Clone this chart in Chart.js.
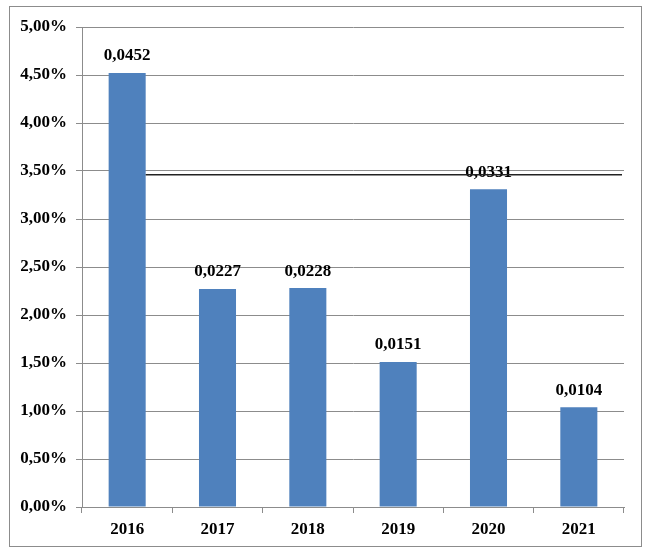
<!DOCTYPE html>
<html>
<head>
<meta charset="utf-8">
<script src="https://cdn.jsdelivr.net/npm/chart.js@4.4.0/dist/chart.umd.min.js"></script>
<style>
html,body{margin:0;padding:0;background:#fff;}
#wrap{width:650px;height:557px;position:relative;}
</style>
</head>
<body>
<div id="wrap"><canvas id="c" width="650" height="557"></canvas></div>
<script>
const categories = ["2016", "2017", "2018", "2019", "2020", "2021"];
const values = [0.0452, 0.0227, 0.0228, 0.0151, 0.0331, 0.0104];
const yTicks = [0, 0.005, 0.01, 0.015, 0.02, 0.025, 0.03, 0.035, 0.04, 0.045, 0.05];
const referenceLine = 0.0346;

const FONT = {family: '"Liberation Serif", "Times New Roman", serif', size: 17, weight: 'bold'};

const extras = {
  id: 'extras',
  beforeDraw(chart) {
    const ctx = chart.ctx;
    ctx.save();
    ctx.fillStyle = '#fff';
    ctx.fillRect(0, 0, chart.width, chart.height);
    ctx.strokeStyle = '#8c8c8c';
    ctx.lineWidth = 1;
    ctx.strokeRect(9.5, 6.5, 632, 540);
    ctx.restore();
  },
  afterDatasetsDraw(chart) {
    const ctx = chart.ctx;
    const meta = chart.getDatasetMeta(0);
    ctx.save();
    ctx.font = `bold ${FONT.size}px ${FONT.family}`;
    ctx.fillStyle = '#000';
    ctx.textAlign = 'center';
    ctx.textBaseline = 'middle';
    meta.data.forEach((bar, i) => {
      ctx.fillText(values[i].toFixed(4).replace('.', ','), bar.x, bar.y - 17);
    });
    // reference line
    const y = chart.scales.y.getPixelForValue(referenceLine);
    const first = meta.data[0];
    const x0 = first.x + first.width / 2;
    ctx.strokeStyle = '#222';
    ctx.lineWidth = 1.5;
    ctx.beginPath();
    ctx.moveTo(x0, y);
    ctx.lineTo(chart.chartArea.right - 2, y);
    ctx.stroke();
    ctx.restore();
  }
};

new Chart(document.getElementById('c'), {
  type: 'bar',
  data: {
    labels: categories,
    datasets: [{
      data: values,
      backgroundColor: '#4F81BD',
      borderWidth: 0,
      categoryPercentage: 1,
      barPercentage: 0.41
    }]
  },
  options: {
    responsive: false,
    animation: false,
    devicePixelRatio: 1,
    layout: {padding: {left: 0, right: 26, top: 27, bottom: 0}},
    plugins: {legend: {display: false}, tooltip: {enabled: false}},
    scales: {
      x: {
        grid: {drawOnChartArea: false, drawTicks: true, tickLength: 6, color: '#8c8c8c', offset: true},
        border: {color: '#8c8c8c'},
        ticks: {color: '#000', font: FONT, padding: 6},
        afterFit(s) { s.height = 50; }
      },
      y: {
        min: 0, max: 0.05,
        afterBuildTicks(s) { s.ticks = yTicks.map(v => ({value: v})); },
        grid: {color: '#8c8c8c', tickLength: 6},
        border: {color: '#8c8c8c'},
        ticks: {
          color: '#000', font: FONT, padding: 9,
          callback: v => (v * 100).toFixed(2).replace('.', ',') + '%'
        },
        afterFit(s) { s.width = 82; }
      }
    }
  },
  plugins: [extras]
});
</script>
</body>
</html>
